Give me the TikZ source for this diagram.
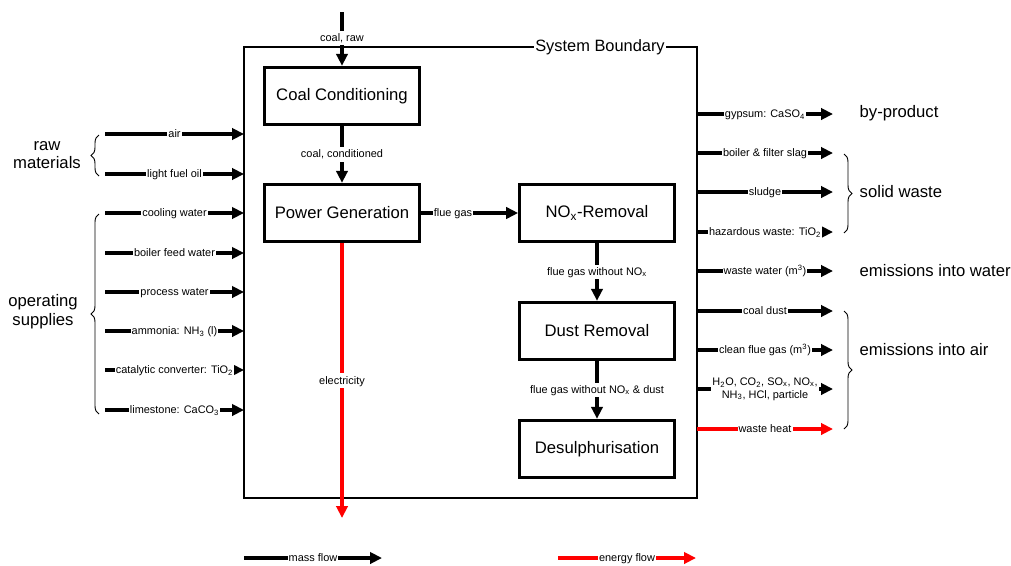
\documentclass[tikz,border=0pt]{standalone}
\usepackage{fontspec}
\setmainfont{Liberation Sans}
\usetikzlibrary{arrows.meta,decorations.pathreplacing}
\begin{document}
\begin{tikzpicture}[x=0.75pt,y=-0.75pt,
 flow/.style={line width=2.4pt,-{Triangle[length=9pt,width=8.5pt]}},
 eflow/.style={flow,draw=red,fill=red},
 proc/.style={draw,line width=2.3pt,minimum width=116pt,minimum height=43pt,inner sep=0pt,font=\fontsize{12.5}{14}\selectfont},
 lbltext/.style={fill=white,inner sep=0.8pt,font=\fontsize{8.2}{9.5}\selectfont,align=center},
 lbl/.style={lbltext,text height=0.72em,text depth=0.2em},
 big/.style={font=\fontsize{12.5}{14}\selectfont,align=center},
 brace/.style={decorate,decoration={brace,amplitude=6pt},line width=0.7pt}]
\useasboundingbox (0,0) rectangle (1011,565);

% system boundary
\draw[line width=1.1pt] (244,47) rectangle (697,498);
\node[fill=white,inner sep=1pt,font=\fontsize{12.3}{14}\selectfont] (sb) at (600,47) {System Boundary};

% processes
\node[proc] (cc) at (342,96) {Coal Conditioning};
\node[proc] (pg) at (342,213) {Power Generation};
\node[proc] (nox) at (597,213) {NO\textsubscript{x}-Removal};
\node[proc] (dr) at (597,331) {Dust Removal};
\node[proc] (ds) at (597,449) {Desulphurisation};

\coordinate (coalin) at (342,12);
\draw[flow] (coalin) -- node[lbl,pos=0.48] {coal, raw} (cc);
\draw[flow] (cc) -- node[lbl] {coal, conditioned} (pg);
\draw[flow] (pg) -- node[lbl,pos=0.33] {flue gas} (nox);
\draw[flow] (nox) -- node[lbl] {flue gas without NO\textsubscript{x}} (dr);
\draw[flow] (dr) -- node[lbl] {flue gas without NO\textsubscript{x} \& dust} (ds);
\coordinate (elout) at (342,518);
\draw[eflow] (pg) -- node[lbl] {electricity} (elout);

% inputs
\foreach \y/\t [count=\i] in {134/{air},174/{light fuel oil},213/{cooling water},253/{boiler feed water},292/{process water},331/{ammonia: NH\textsubscript{3} (l)},370/{catalytic converter: TiO\textsubscript{2}},410/{limestone: CaCO\textsubscript{3}}}{
  \coordinate (in\i) at (105,\y);
  \coordinate (inb\i) at (244,\y);
  \draw[flow] (in\i) -- node[lbl] {\t} (inb\i);
}

% outputs
\foreach \y/\t [count=\i] in {114/{gypsum: CaSO\textsubscript{4}},153/{boiler \& filter slag},192/{sludge},232/{hazardous waste: TiO\textsubscript{2}},271/{waste water (m\textsuperscript{3})},311/{coal dust},350/{clean flue gas (m\textsuperscript{3})}}{
  \coordinate (outb\i) at (697,\y);
  \coordinate (out\i) at (833,\y);
  \draw[flow] (outb\i) -- node[lbl] {\t} (out\i);
}
\coordinate (outb8) at (697,389);
\coordinate (out8) at (833,389);
\draw[flow] (outb8) -- node[lbltext] {H\textsubscript{2}O, CO\textsubscript{2}, SO\textsubscript{x}, NO\textsubscript{x},\\NH\textsubscript{3}, HCl, particle} (out8);
\coordinate (outb9) at (697,429);
\coordinate (out9) at (833,429);
\draw[eflow] (outb9) -- node[lbl] {waste heat} (out9);

% braces and group labels
\draw[brace] (99,176) -- (99,135);
\node[big] (raw) at (47,155) {raw\\materials};
\draw[brace] (99,414) -- (99,214);
\node[big] (ops) at (43,312) {operating\\supplies};
\draw[brace] (844,154) -- (844,233);
\draw[brace] (844,311) -- (844,429);
\node[big,anchor=west] (byp) at (855,113) {by-product};
\node[big,anchor=west] (sw) at (855,192) {solid waste};
\node[big,anchor=west] (ew) at (855,271) {emissions into water};
\node[big,anchor=west] (ea) at (855,350) {emissions into air};

% legend
\coordinate (m1) at (244,558);
\coordinate (m2) at (382,558);
\draw[flow] (m1) -- node[lbl] {mass flow} (m2);
\coordinate (e1) at (558,558);
\coordinate (e2) at (696,558);
\draw[eflow] (e1) -- node[lbl] {energy flow} (e2);
\end{tikzpicture}
\end{document}
